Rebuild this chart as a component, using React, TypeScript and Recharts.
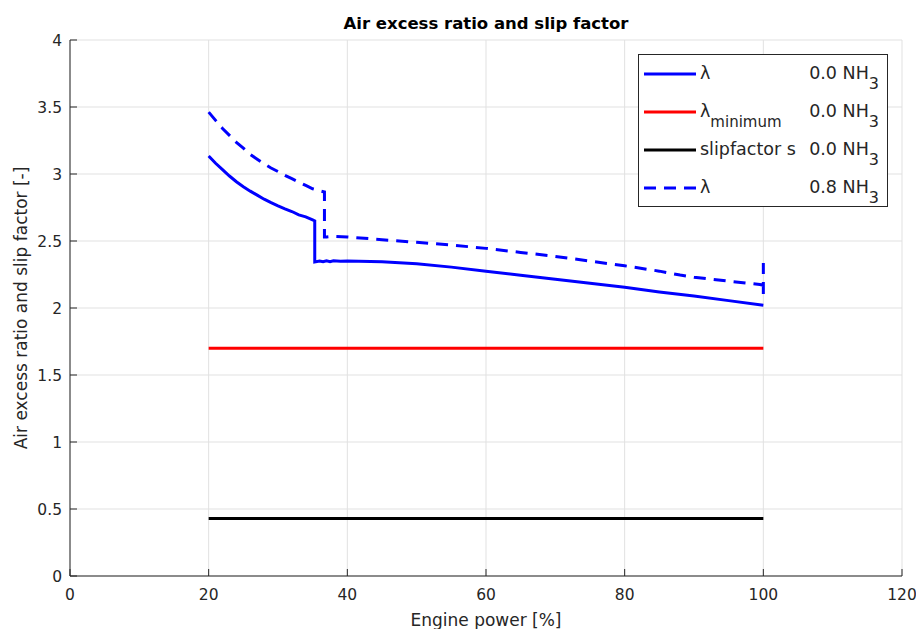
import React from 'react';
import { LineChart, Line, XAxis, YAxis, CartesianGrid, Legend } from 'recharts';

// Engine power [%] vs. air excess ratio, 0.0 NH3 operation
const lambdaPure = [
  { x: 20, y: 3.135 }, { x: 21, y: 3.08 }, { x: 22, y: 3.032 }, { x: 23, y: 2.985 },
  { x: 24, y: 2.942 }, { x: 25, y: 2.905 }, { x: 26, y: 2.872 }, { x: 27, y: 2.842 },
  { x: 28, y: 2.812 }, { x: 29, y: 2.786 }, { x: 30, y: 2.762 }, { x: 31, y: 2.74 },
  { x: 32, y: 2.72 }, { x: 33, y: 2.695 }, { x: 34, y: 2.68 }, { x: 35, y: 2.657 },
  { x: 35.3, y: 2.65 }, { x: 35.3, y: 2.343 }, { x: 36, y: 2.35 }, { x: 36.5, y: 2.345 },
  { x: 37, y: 2.352 }, { x: 37.5, y: 2.346 }, { x: 38, y: 2.353 }, { x: 39, y: 2.348 },
  { x: 40, y: 2.35 }, { x: 45, y: 2.345 }, { x: 50, y: 2.33 }, { x: 55, y: 2.305 },
  { x: 60, y: 2.275 }, { x: 65, y: 2.245 }, { x: 70, y: 2.215 }, { x: 75, y: 2.185 },
  { x: 80, y: 2.155 }, { x: 85, y: 2.12 }, { x: 90, y: 2.09 }, { x: 95, y: 2.055 },
  { x: 100, y: 2.02 },
];

// Minimum air excess ratio, 0.0 NH3
const lambdaMinimum = [{ x: 20, y: 1.7 }, { x: 100, y: 1.7 }];

// Slip factor s, 0.0 NH3
const slipFactor = [{ x: 20, y: 0.43 }, { x: 100, y: 0.43 }];

// Air excess ratio, 0.8 NH3 operation
const lambdaAmmonia = [
  { x: 20, y: 3.462 }, { x: 21, y: 3.4 }, { x: 22, y: 3.34 }, { x: 23, y: 3.288 },
  { x: 24, y: 3.236 }, { x: 25, y: 3.193 }, { x: 26, y: 3.146 }, { x: 27, y: 3.11 },
  { x: 28, y: 3.075 }, { x: 29, y: 3.045 }, { x: 30, y: 3.018 }, { x: 31, y: 2.99 },
  { x: 32, y: 2.965 }, { x: 33, y: 2.94 }, { x: 34, y: 2.915 }, { x: 35, y: 2.89 },
  { x: 36, y: 2.875 }, { x: 36.7, y: 2.866 }, { x: 36.7, y: 2.53 }, { x: 37, y: 2.53 },
  { x: 38, y: 2.535 }, { x: 40, y: 2.53 }, { x: 45, y: 2.51 }, { x: 50, y: 2.49 },
  { x: 55, y: 2.47 }, { x: 60, y: 2.445 }, { x: 65, y: 2.415 }, { x: 70, y: 2.385 },
  { x: 75, y: 2.35 }, { x: 80, y: 2.315 }, { x: 85, y: 2.275 }, { x: 88, y: 2.246 },
  { x: 90, y: 2.23 }, { x: 95, y: 2.2 }, { x: 99.5, y: 2.175 }, { x: 100, y: 2.17 },
  { x: 100, y: 2.1 }, { x: 100, y: 2.335 },
];

const xTicks = [0, 20, 40, 60, 80, 100, 120];
const yTicks = [0, 0.5, 1, 1.5, 2, 2.5, 3, 3.5, 4];

const FONT = '"DejaVu Sans", "Liberation Sans", sans-serif';
const INK = '#262626';
const GRID = '#e1e1e1';
const DASH = '12 8';
const TICK_LEN = 7;

// Chart geometry
const WIDTH = 916;
const HEIGHT = 629;
const MARGIN = { top: 40, right: 14, bottom: 0, left: 0 };
const Y_AXIS_W = 70;
const X_AXIS_H = 53;
const PLOT_LEFT = MARGIN.left + Y_AXIS_W;
const PLOT_RIGHT = WIDTH - MARGIN.right;
const PLOT_TOP = MARGIN.top;
const PLOT_BOTTOM = HEIGHT - MARGIN.bottom - X_AXIS_H;

const series = [
  { key: 'lp', data: lambdaPure, color: '#0000ff', dash: undefined as string | undefined, main: 'λ', sub: '', value: '0.0' },
  { key: 'lm', data: lambdaMinimum, color: '#ff0000', dash: undefined, main: 'λ', sub: 'minimum', value: '0.0' },
  { key: 'sf', data: slipFactor, color: '#000000', dash: undefined, main: 'slipfactor s', sub: '', value: '0.0' },
  { key: 'la', data: lambdaAmmonia, color: '#0000ff', dash: DASH, main: 'λ', sub: '', value: '0.8' },
];

const BottomTick = (props: any) => {
  const { x, payload } = props;
  return (
    <g>
      <line x1={x} y1={PLOT_BOTTOM} x2={x} y2={PLOT_BOTTOM - TICK_LEN} stroke={INK} strokeWidth={1} />
      <text x={x} y={PLOT_BOTTOM + 24} textAnchor="middle" fontFamily={FONT} fontSize={15.5} fill={INK}>
        {payload.value}
      </text>
    </g>
  );
};

const TopTick = (props: any) => {
  const { x } = props;
  return <line x1={x} y1={PLOT_TOP} x2={x} y2={PLOT_TOP + TICK_LEN} stroke={INK} strokeWidth={1} />;
};

const LeftTick = (props: any) => {
  const { y, payload } = props;
  return (
    <g>
      <line x1={PLOT_LEFT} y1={y} x2={PLOT_LEFT + TICK_LEN} y2={y} stroke={INK} strokeWidth={1} />
      <text x={PLOT_LEFT - 8} y={y} dy="0.36em" textAnchor="end" fontFamily={FONT} fontSize={15.5} fill={INK}>
        {payload.value}
      </text>
    </g>
  );
};

const RightTick = (props: any) => {
  const { y } = props;
  return <line x1={PLOT_RIGHT} y1={y} x2={PLOT_RIGHT - TICK_LEN} y2={y} stroke={INK} strokeWidth={1} />;
};

// Y-axis caption plus the chart title above the plot frame
const YLabelAndTitle = () => {
  const cx = 27;
  const cy = (PLOT_TOP + PLOT_BOTTOM) / 2;
  return (
    <g>
      <text
        x={cx}
        y={cy}
        transform={`rotate(-90 ${cx} ${cy})`}
        textAnchor="middle"
        fontFamily={FONT}
        fontSize={17}
        fill={INK}
      >
        Air excess ratio and slip factor [-]
      </text>
      <text
        x={(PLOT_LEFT + PLOT_RIGHT) / 2}
        y={PLOT_TOP - 11}
        textAnchor="middle"
        fontFamily={FONT}
        fontSize={16.5}
        fontWeight="bold"
        fill="#000000"
      >
        Air excess ratio and slip factor
      </text>
    </g>
  );
};

const LegendBox = () => (
  <div
    style={{
      width: 250,
      height: 153,
      boxSizing: 'border-box',
      border: `1px solid ${INK}`,
      background: '#ffffff',
      fontFamily: FONT,
      fontSize: 17.5,
      color: INK,
      position: 'relative',
    }}
  >
    {series.map((s, i) => (
      <div
        key={s.key}
        style={{ position: 'absolute', left: 0, top: 19 + i * 38 - 14, width: 248, height: 28 }}
      >
        <svg width={60} height={28} style={{ position: 'absolute', left: 4, top: 0 }}>
          <line x1={1} y1={14} x2={53} y2={14} stroke={s.color} strokeWidth={3} strokeDasharray={s.dash} />
        </svg>
        <div style={{ position: 'absolute', left: 61, top: 3, whiteSpace: 'nowrap', lineHeight: '20px' }}>
          {s.main}
          {s.sub ? (
            <span style={{ fontSize: 15, position: 'relative', top: 10 }}>{s.sub}</span>
          ) : null}
        </div>
        <div style={{ position: 'absolute', right: 8, top: 3, whiteSpace: 'nowrap', lineHeight: '20px' }}>
          {s.value} NH
          <span style={{ fontSize: 16, position: 'relative', top: 10 }}>3</span>
        </div>
      </div>
    ))}
  </div>
);

export default function App() {
  return (
    <div style={{ position: 'absolute', left: 0, top: 0, width: WIDTH, height: HEIGHT, background: '#ffffff' }}>
      <LineChart width={WIDTH} height={HEIGHT} margin={MARGIN}>
        <CartesianGrid stroke={GRID} strokeWidth={1} />
        <XAxis
          dataKey="x"
          type="number"
          domain={[0, 120]}
          ticks={xTicks}
          height={X_AXIS_H}
          tickLine={false}
          axisLine={{ stroke: INK, strokeWidth: 1 }}
          tick={<BottomTick />}
          label={{
            content: () => (
              <text
                x={(PLOT_LEFT + PLOT_RIGHT) / 2}
                y={PLOT_BOTTOM + 50}
                textAnchor="middle"
                fontFamily={FONT}
                fontSize={17}
                fill={INK}
              >
                Engine power [%]
              </text>
            ),
          }}
        />
        <XAxis
          xAxisId="top"
          orientation="top"
          dataKey="x"
          type="number"
          domain={[0, 120]}
          ticks={xTicks}
          height={0}
          tickLine={false}
          axisLine={{ stroke: INK, strokeWidth: 1 }}
          tick={<TopTick />}
        />
        <YAxis
          type="number"
          domain={[0, 4]}
          ticks={yTicks}
          width={Y_AXIS_W}
          tickLine={false}
          axisLine={{ stroke: INK, strokeWidth: 1 }}
          tick={<LeftTick />}
          label={{ content: () => <YLabelAndTitle /> }}
        />
        <YAxis
          yAxisId="right"
          orientation="right"
          type="number"
          domain={[0, 4]}
          ticks={yTicks}
          width={0}
          tickLine={false}
          axisLine={{ stroke: INK, strokeWidth: 1 }}
          tick={<RightTick />}
        />
        {series.map((s) => (
          <Line
            key={s.key}
            data={s.data}
            dataKey="y"
            type="linear"
            stroke={s.color}
            strokeWidth={3}
            strokeDasharray={s.dash}
            dot={false}
            activeDot={false}
            isAnimationActive={false}
          />
        ))}
        <Legend
          layout="vertical"
          align="center"
          verticalAlign="middle"
          content={() => <LegendBox />}
          wrapperStyle={{ position: 'absolute', left: 638, top: 54, width: 250, height: 153 }}
        />
      </LineChart>
    </div>
  );
}
